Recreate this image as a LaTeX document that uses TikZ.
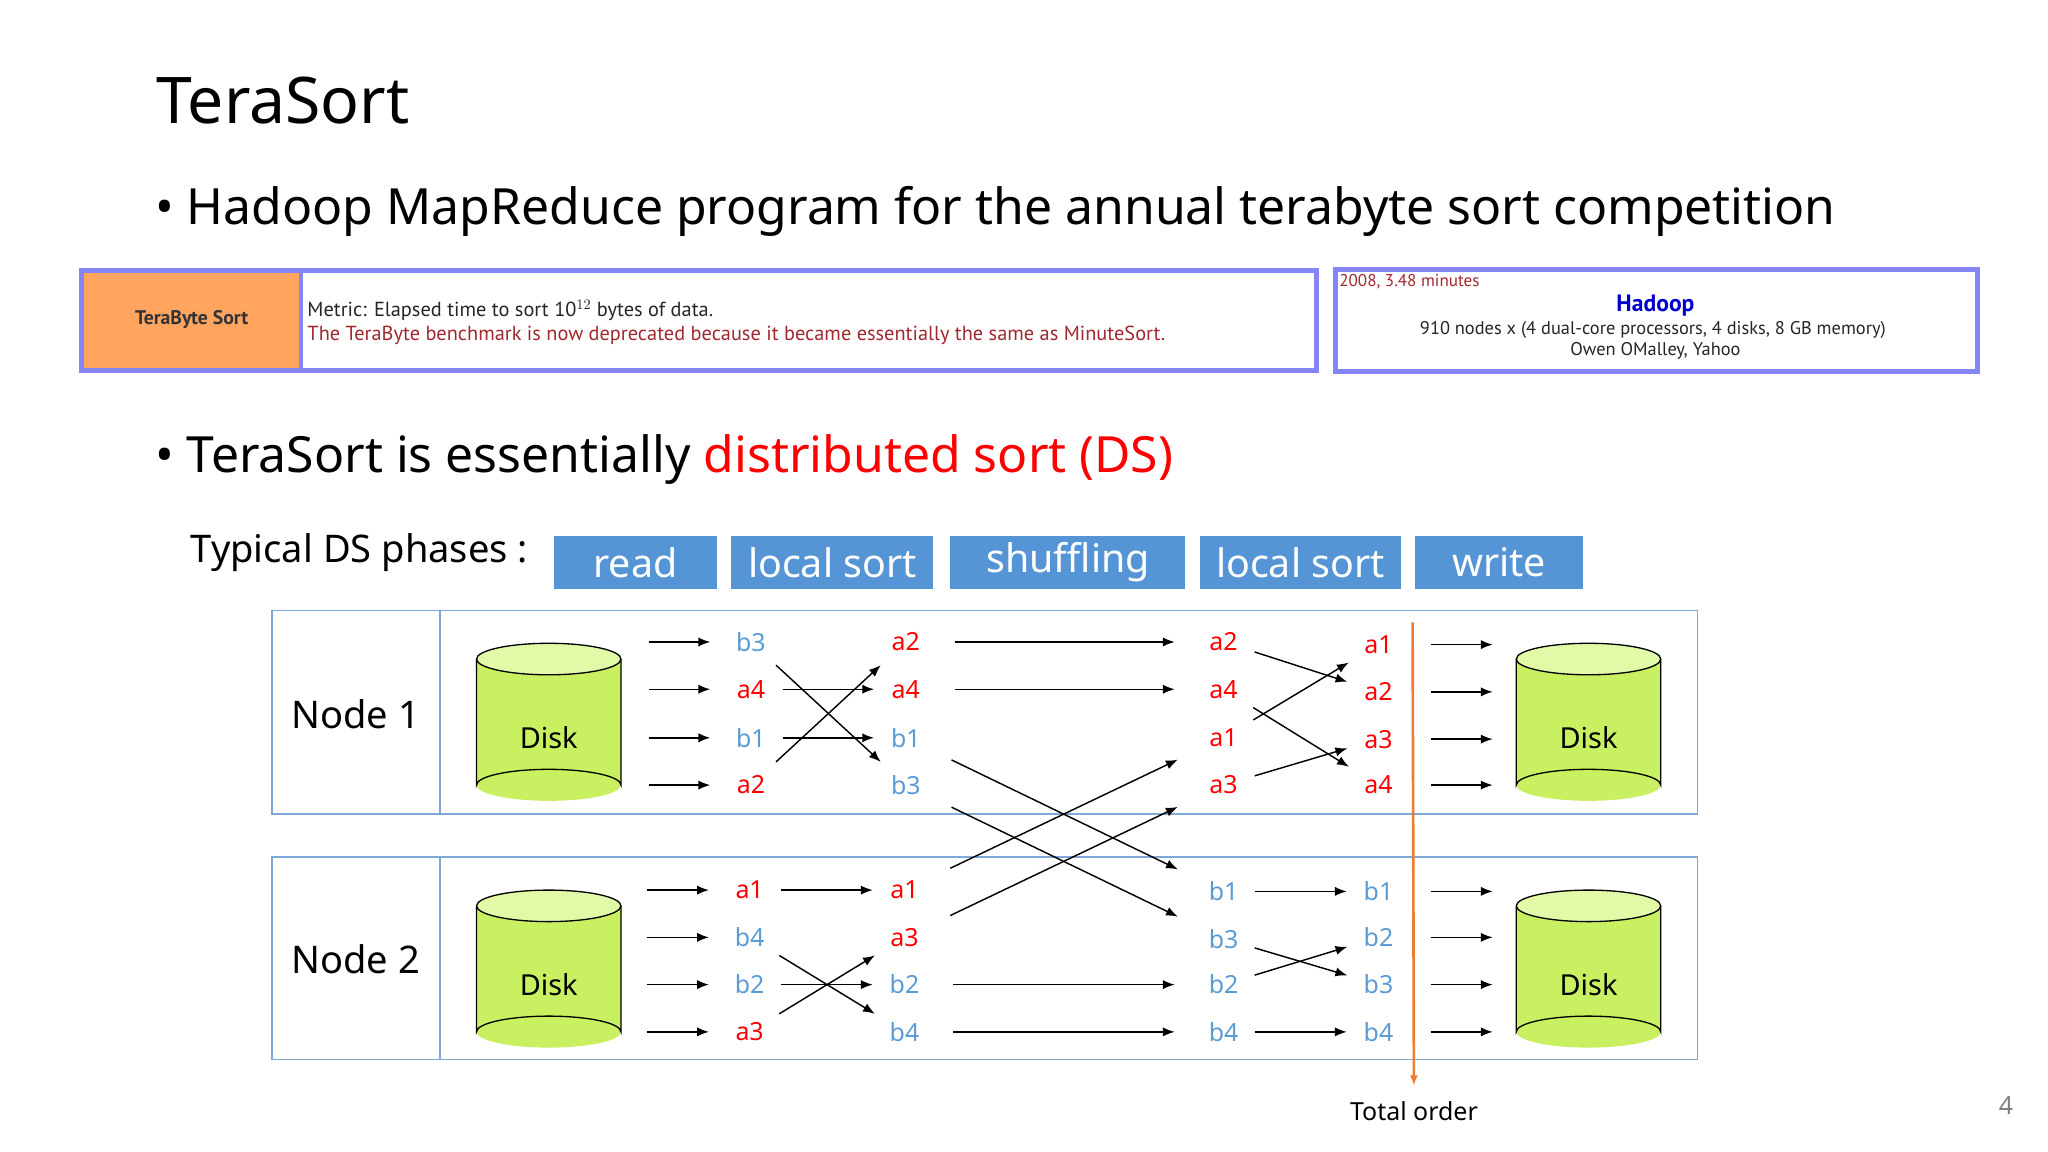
\documentclass[tikz,border=0pt]{standalone}
\usepackage{fontspec}
\setmainfont{Noto Sans}
\newfontfamily\bannerfont{PT Sans}
\usetikzlibrary{arrows.meta}
\definecolor{lblue}{HTML}{5B9BD5}
\definecolor{phase}{HTML}{5595D5}
\definecolor{frame}{HTML}{7FA8D8}
\definecolor{banner}{HTML}{8585F5}
\definecolor{orng}{HTML}{FFA55F}
\definecolor{dred}{HTML}{A0282E}
\definecolor{disk}{HTML}{C8F060}
\definecolor{disktop}{HTML}{E2FAA8}
\definecolor{total}{HTML}{ED7D31}
\tikzset{
  lab/.style={font=\fontsize{19}{19}\selectfont\bfseries, inner sep=0pt, minimum width=26pt, minimum height=20pt},
  A/.style={lab, text=red},
  B/.style={lab, text=lblue},
  arr/.style={-{Latex[length=9pt,width=7pt]}, line width=1.1pt, shorten <=11pt, shorten >=11pt},
  phasebox/.style={fill=phase, text=white, font=\fontsize{30}{30}\selectfont, minimum height=41pt, inner sep=0pt},
  nodeframe/.style={draw=frame, line width=1.3pt},
}
\newcommand{\drawdisk}[3]{% center x, top y, name
  \fill[disk] (#1-55,#2) rectangle (#1+55,#2+96);
  \fill[disk] (#1,#2+96) ellipse (55 and 12);
  \draw[line width=1pt] (#1-55,#2) -- (#1-55,#2+96) arc[start angle=180,end angle=360,x radius=55,y radius=12] -- (#1+55,#2);
  \draw[line width=1pt, fill=disktop] (#1,#2) ellipse (55 and 12);
  \node[font=\fontsize{22}{22}\selectfont] (#3) at (#1,#2+60) {Disk};
}
\begin{document}
\begin{tikzpicture}[x=1pt,y=-1pt]
\useasboundingbox (0,0) rectangle (1560,877.5);
% title and bullets
\node[anchor=base west, inner sep=0, font=\fontsize{49}{49}\selectfont] (title) at (119,94) {TeraSort};
\node[anchor=base west, inner sep=0, font=\fontsize{38}{38}\selectfont] (b1) at (118,171) {\textbullet\ Hadoop MapReduce program for the annual terabyte sort competition};
\node[anchor=base west, inner sep=0, font=\fontsize{38}{38}\selectfont] (b2) at (118,360) {\textbullet\ TeraSort is essentially \textcolor{red}{\bfseries distributed sort (DS)}};
% banner
\draw[draw=banner, line width=4pt, fill=white] (62,206) rectangle (1003,282);
\fill[orng] (64,208) rectangle (228,280);
\draw[banner, line width=3pt] (229,206) -- (229,282);
\node[font=\bannerfont\fontsize{15}{15}\selectfont\bfseries, text=black!80] (tbs) at (146,243) {TeraByte Sort};
\node[anchor=base west, inner sep=0, font=\bannerfont\fontsize{15.5}{15.5}\selectfont, text=black!85] (metric) at (234,241) {Metric: Elapsed time to sort 10$^{12}$ bytes of data.};
\node[anchor=base west, inner sep=0, font=\bannerfont\fontsize{15.5}{15.5}\selectfont, text=dred] (depr) at (234,259) {The TeraByte benchmark is now deprecated because it became essentially the same as MinuteSort.};
\draw[draw=banner, line width=4pt, fill=white] (1017,205) rectangle (1506,283);
\node[anchor=base west, inner sep=0, font=\bannerfont\fontsize{13}{13}\selectfont, text=dred] (yr) at (1020,218) {2008, 3.48 minutes};
\node[font=\bannerfont\fontsize{18}{18}\selectfont\bfseries, text=blue!80!black] (hd) at (1261,233) {Hadoop};
\node[font=\bannerfont\fontsize{14}{14}\selectfont, text=black!85] (nd) at (1259,251) {910 nodes x (4 dual-core processors, 4 disks, 8 GB memory)};
\node[font=\bannerfont\fontsize{14}{14}\selectfont, text=black!85] (ow) at (1261,267) {Owen OMalley, Yahoo};
% phases
\node[anchor=west, inner sep=0, font=\fontsize{29}{29}\selectfont] (typ) at (145,421) {Typical DS phases :};
\node[phasebox, minimum width=124pt] (p1) at (484,428.5) {read};
\node[phasebox, minimum width=154pt] (p2) at (634,428.5) {local sort};
\node[phasebox, minimum width=179pt] (p3) at (813.5,428.5) {shuffling};
\node[phasebox, minimum width=153pt] (p4) at (990.5,428.5) {local sort};
\node[phasebox, minimum width=128pt] (p5) at (1142,428.5) {write};
% node frames
\draw[nodeframe] (207,465) rectangle (1293,620);
\draw[nodeframe] (335,465) -- (335,620);
\draw[nodeframe] (207,653) rectangle (1293,807);
\draw[nodeframe] (335,653) -- (335,807);
\node[font=\fontsize{29}{29}\selectfont] (n1) at (271,544) {Node 1};
\node[font=\fontsize{29}{29}\selectfont] (n2) at (271,731) {Node 2};
\drawdisk{418}{502}{d1}
\drawdisk{418}{690}{d2}
\drawdisk{1210}{502}{d3}
\drawdisk{1210}{690}{d4}
% labels: column 1
\node[B] (c1-1) at (572,489) {b3};
\node[A] (c1-2) at (572,525) {a4};
\node[B] (c1-3) at (572,562) {b1};
\node[A] (c1-4) at (572,598) {a2};
\node[A] (c1-5) at (571,678) {a1};
\node[B] (c1-6) at (571,714) {b4};
\node[B] (c1-7) at (571,750) {b2};
\node[A] (c1-8) at (571,786) {a3};
% column 2
\node[A] (c2-1) at (690,489) {a2};
\node[A] (c2-2) at (690,525) {a4};
\node[B] (c2-3) at (690,562) {b1};
\node[B] (c2-4) at (690,598) {b3};
\node[A] (c2-5) at (689,678) {a1};
\node[A] (c2-6) at (689,714) {a3};
\node[B] (c2-7) at (689,750) {b2};
\node[B] (c2-8) at (689,786) {b4};
% column 3
\node[A] (c3-1) at (932,489) {a2};
\node[A] (c3-2) at (932,525) {a4};
\node[A] (c3-3) at (932,562) {a1};
\node[A] (c3-4) at (932,598) {a3};
\node[B] (c3-5) at (932,679) {b1};
\node[B] (c3-6) at (932,715) {b3};
\node[B] (c3-7) at (932,750) {b2};
\node[B] (c3-8) at (932,786) {b4};
% column 4
\node[A] (c4-1) at (1050,491) {a1};
\node[A] (c4-2) at (1050,527) {a2};
\node[A] (c4-3) at (1050,563) {a3};
\node[A] (c4-4) at (1050,598) {a4};
\node[B] (c4-5) at (1050,679) {b1};
\node[B] (c4-6) at (1050,714) {b2};
\node[B] (c4-7) at (1050,750) {b3};
\node[B] (c4-8) at (1050,786) {b4};
% read and write arrows
\foreach \i in {1,...,8} {
  \coordinate (r\i) at ([xshift=-78pt]c1-\i.center);
  \coordinate (w\i) at ([xshift=40pt]c4-\i.center);
  \coordinate (we\i) at ([xshift=87pt]c4-\i.center);
  \draw[arr, shorten <=0pt, shorten >=0pt] (r\i) -- ([xshift=-31pt]c1-\i.center);
  \draw[arr, shorten <=0pt, shorten >=0pt] (w\i) -- (we\i);
}
% local sort 1
\draw[arr] (c1-1) -- (c2-4);
\draw[arr] (c1-2) -- (c2-2);
\draw[arr] (c1-3) -- (c2-3);
\draw[arr] (c1-4) -- (c2-1);
\draw[arr] (c1-5) -- (c2-5);
\draw[arr] (c1-6) -- (c2-8);
\draw[arr] (c1-7) -- (c2-7);
\draw[arr] (c1-8) -- (c2-6);
% shuffling
\draw[arr, shorten <=24pt, shorten >=24pt] (c2-1) -- (c3-1);
\draw[arr, shorten <=24pt, shorten >=24pt] (c2-2) -- (c3-2);
\draw[arr, shorten <=24pt, shorten >=24pt] (c2-3) -- (c3-5);
\draw[arr, shorten <=24pt, shorten >=24pt] (c2-4) -- (c3-6);
\draw[arr, shorten <=24pt, shorten >=24pt] (c2-5) -- (c3-3);
\draw[arr, shorten <=24pt, shorten >=24pt] (c2-6) -- (c3-4);
\draw[arr, shorten <=24pt, shorten >=24pt] (c2-7) -- (c3-7);
\draw[arr, shorten <=24pt, shorten >=24pt] (c2-8) -- (c3-8);
% local sort 2
\draw[arr] (c3-1) -- (c4-2);
\draw[arr] (c3-2) -- (c4-4);
\draw[arr] (c3-3) -- (c4-1);
\draw[arr] (c3-4) -- (c4-3);
\draw[arr] (c3-5) -- (c4-5);
\draw[arr] (c3-6) -- (c4-7);
\draw[arr] (c3-7) -- (c4-6);
\draw[arr] (c3-8) -- (c4-8);
% total order
\node[font=\fontsize{19}{19}\selectfont] (to) at (1077,846) {Total order};
\coordinate (tt) at (1076,474);
\draw[total, line width=2pt, -{Latex[length=8pt,width=6pt]}] (tt) -- ([yshift=8pt]to.north);
\node[text=black!50, font=\fontsize{19}{19}\selectfont] (pg) at (1528,842) {4};
\end{tikzpicture}
\end{document}
